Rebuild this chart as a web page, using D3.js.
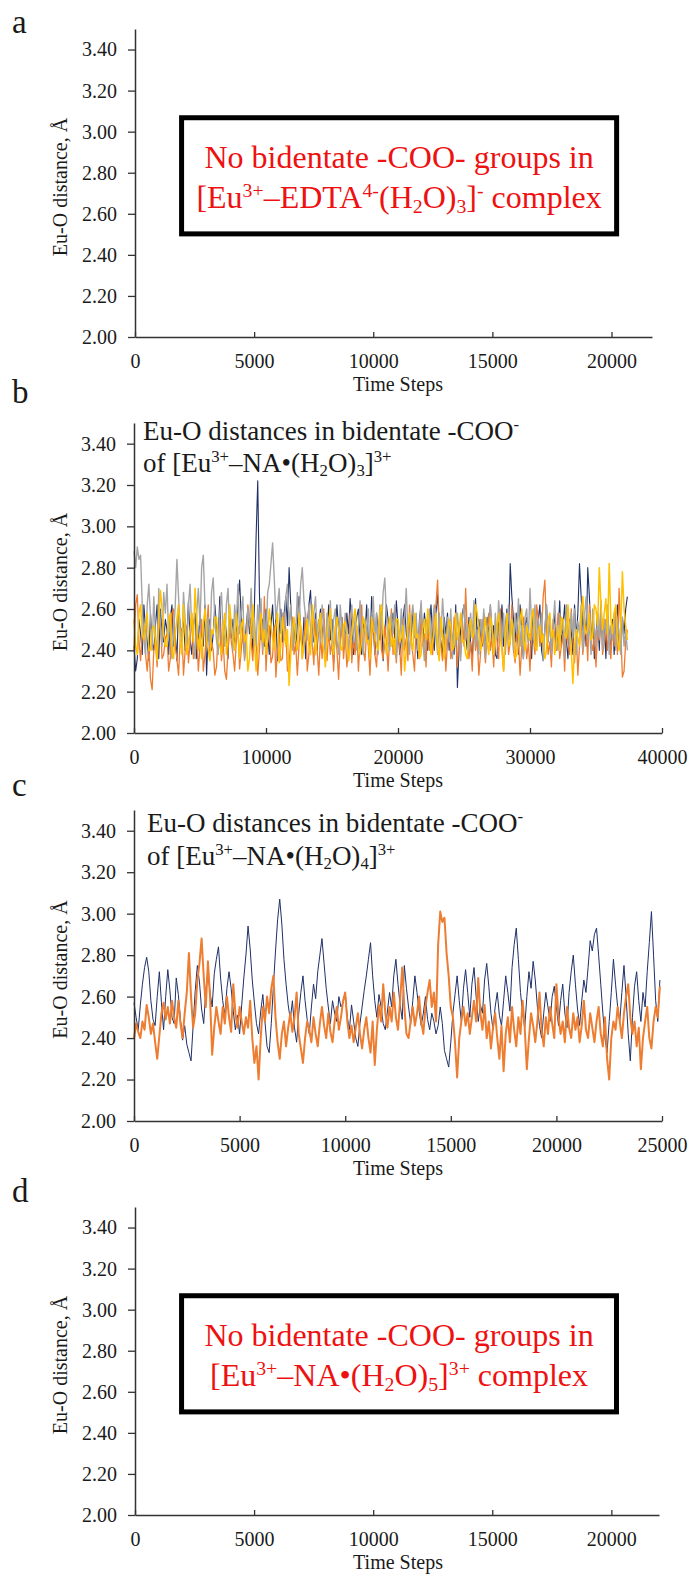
<!DOCTYPE html>
<html><head><meta charset="utf-8">
<script src="https://cdn.jsdelivr.net/npm/d3@7"></script>
<style>
body{margin:0;background:#fff}
svg{display:block}
text{font-family:"Liberation Serif","Times New Roman",serif;fill:#1a1a1a}
</style>
</head><body>
<svg id="chart" width="688" height="1574"></svg>
<script>
// ---------- data ----------
const yTickValues = [2.00, 2.20, 2.40, 2.60, 2.80, 3.00, 3.20, 3.40];
const xTicksA = [0, 5000, 10000, 15000, 20000];
const xTicksB = [0, 10000, 20000, 30000, 40000];
const xTicksC = [0, 5000, 10000, 15000, 20000, 25000];
const xTicksD = [0, 5000, 10000, 15000, 20000];
const panelLetters = ["a", "b", "c", "d"];
const yLabel = "Eu-O distance, Å";
const xLabel = "Time Steps";

// panel b: one value every 125 time steps, from step 0
const bStepInterval = 125;
const bNavy = [
 2.42,2.30,2.36,2.55,2.48,2.38,2.62,2.50,2.45,2.35,
 2.58,2.44,2.40,2.52,2.62,2.36,2.60,2.48,2.44,2.55,
 2.50,2.38,2.56,2.62,2.42,2.48,2.35,2.62,2.52,2.48,
 2.55,2.40,2.46,2.64,2.45,2.38,2.52,2.58,2.36,2.44,
 2.58,2.48,2.42,2.62,2.28,2.50,2.55,2.40,2.48,2.62,
 2.52,2.44,2.66,2.38,2.45,2.56,2.48,2.36,2.60,2.46,
 2.55,2.42,2.50,2.62,2.74,2.56,2.45,2.38,2.52,2.60,
 2.48,2.56,2.40,2.62,2.95,3.22,2.68,2.45,2.55,2.42,
 2.60,2.48,2.38,2.52,2.62,2.45,2.56,2.35,2.50,2.60,
 2.44,2.58,2.66,2.52,2.80,2.62,2.45,2.55,2.40,2.52,
 2.66,2.48,2.40,2.56,2.36,2.52,2.62,2.69,2.50,2.44,
 2.58,2.40,2.52,2.60,2.46,2.55,2.38,2.48,2.62,2.45,
 2.55,2.34,2.48,2.62,2.50,2.42,2.56,2.40,2.45,2.58,
 2.48,2.65,2.52,2.38,2.44,2.56,2.60,2.45,2.38,2.55,
 2.48,2.62,2.45,2.40,2.66,2.52,2.38,2.58,2.50,2.45,
 2.60,2.35,2.48,2.62,2.55,2.42,2.50,2.58,2.46,2.64,
 2.52,2.38,2.45,2.55,2.62,2.48,2.40,2.56,2.45,2.60,
 2.52,2.48,2.36,2.55,2.62,2.44,2.58,2.50,2.40,2.52,
 2.62,2.46,2.40,2.58,2.67,2.52,2.44,2.38,2.56,2.48,
 2.58,2.40,2.52,2.45,2.38,2.62,2.22,2.40,2.50,2.58,
 2.62,2.48,2.40,2.56,2.44,2.36,2.52,2.65,2.46,2.55,
 2.48,2.42,2.58,2.38,2.56,2.46,2.62,2.44,2.52,2.38,
 2.36,2.58,2.46,2.62,2.42,2.50,2.60,2.45,2.82,2.66,
 2.55,2.44,2.58,2.38,2.62,2.48,2.36,2.52,2.56,2.44,
 2.48,2.36,2.60,2.52,2.42,2.55,2.62,2.40,2.35,2.50,
 2.62,2.44,2.56,2.38,2.50,2.58,2.40,2.48,2.64,2.42,
 2.52,2.62,2.45,2.36,2.55,2.50,2.38,2.62,2.46,2.58,
 2.82,2.66,2.50,2.58,2.42,2.80,2.66,2.45,2.55,2.36,
 2.48,2.58,2.40,2.62,2.44,2.55,2.36,2.60,2.48,2.42,
 2.55,2.38,2.52,2.62,2.44,2.40,2.56,2.48,2.60,2.66];
const bOrange = [
 2.40,2.62,2.67,2.45,2.35,2.48,2.52,2.38,2.30,2.42,
 2.26,2.21,2.40,2.45,2.32,2.50,2.55,2.36,2.38,2.46,
 2.48,2.30,2.36,2.58,2.60,2.42,2.36,2.28,2.45,2.50,
 2.28,2.40,2.52,2.34,2.44,2.58,2.36,2.40,2.48,2.30,
 2.42,2.55,2.30,2.38,2.50,2.62,2.36,2.44,2.40,2.28,
 2.32,2.48,2.55,2.35,2.45,2.30,2.26,2.40,2.52,2.44,
 2.38,2.30,2.44,2.52,2.31,2.40,2.50,2.36,2.42,2.62,
 2.55,2.44,2.35,2.50,2.47,2.28,2.40,2.55,2.38,2.66,
 2.30,2.46,2.52,2.34,2.37,2.52,2.27,2.41,2.48,2.35,
 2.36,2.58,2.50,2.30,2.33,2.45,2.56,2.38,2.43,2.28,
 2.42,2.52,2.36,2.46,2.58,2.30,2.38,2.50,2.44,2.33,
 2.55,2.40,2.28,2.47,2.36,2.60,2.42,2.35,2.50,2.38,
 2.45,2.30,2.52,2.40,2.26,2.44,2.56,2.36,2.48,2.32,
 2.40,2.58,2.34,2.46,2.38,2.52,2.30,2.44,2.62,2.40,
 2.35,2.50,2.42,2.28,2.46,2.55,2.38,2.32,2.48,2.58,
 2.40,2.36,2.52,2.44,2.30,2.48,2.60,2.38,2.45,2.34,
 2.50,2.42,2.28,2.55,2.40,2.46,2.35,2.62,2.44,2.38,
 2.30,2.52,2.45,2.36,2.58,2.42,2.48,2.32,2.55,2.40,
 2.46,2.38,2.58,2.62,2.74,2.50,2.42,2.35,2.48,2.30,
 2.44,2.52,2.36,2.40,2.56,2.45,2.32,2.50,2.38,2.55,
 2.42,2.70,2.48,2.36,2.44,2.30,2.52,2.40,2.46,2.28,
 2.38,2.55,2.44,2.34,2.50,2.58,2.40,2.46,2.32,2.52,
 2.45,2.36,2.60,2.42,2.30,2.48,2.55,2.38,2.44,2.62,
 2.40,2.34,2.50,2.45,2.28,2.42,2.56,2.48,2.36,2.44,
 2.30,2.52,2.46,2.38,2.62,2.55,2.42,2.48,2.66,2.74,
 2.50,2.38,2.44,2.32,2.55,2.46,2.40,2.58,2.36,2.42,
 2.48,2.30,2.52,2.44,2.38,2.60,2.45,2.34,2.50,2.28,
 2.42,2.56,2.38,2.46,2.52,2.35,2.62,2.44,2.40,2.48,
 2.32,2.50,2.45,2.58,2.38,2.44,2.55,2.40,2.48,2.36,
 2.52,2.42,2.60,2.38,2.70,2.50,2.27,2.30,2.44,2.50];
const bGray = [
 2.88,2.80,2.90,2.84,2.86,2.62,2.45,2.38,2.62,2.72,
 2.56,2.40,2.66,2.48,2.35,2.70,2.52,2.42,2.68,2.58,
 2.72,2.46,2.55,2.36,2.48,2.62,2.84,2.66,2.50,2.40,
 2.68,2.55,2.40,2.62,2.72,2.50,2.46,2.36,2.58,2.70,
 2.52,2.80,2.86,2.62,2.48,2.56,2.42,2.68,2.75,2.55,
 2.45,2.38,2.58,2.68,2.50,2.42,2.62,2.70,2.48,2.55,
 2.40,2.62,2.52,2.72,2.48,2.58,2.66,2.35,2.45,2.60,
 2.52,2.70,2.46,2.55,2.42,2.62,2.50,2.65,2.40,2.58,
 2.45,2.68,2.72,2.82,2.92,2.75,2.55,2.62,2.70,2.48,
 2.58,2.45,2.66,2.72,2.52,2.62,2.40,2.55,2.48,2.68,
 2.52,2.72,2.80,2.64,2.56,2.45,2.62,2.50,2.42,2.58,
 2.66,2.48,2.55,2.44,2.62,2.52,2.38,2.58,2.46,2.64,
 2.40,2.55,2.60,2.45,2.38,2.62,2.50,2.42,2.58,2.48,
 2.35,2.52,2.62,2.44,2.56,2.40,2.50,2.64,2.46,2.38,
 2.55,2.48,2.60,2.42,2.52,2.66,2.45,2.58,2.38,2.62,
 2.50,2.68,2.75,2.56,2.44,2.40,2.58,2.48,2.62,2.36,
 2.52,2.45,2.60,2.42,2.56,2.70,2.48,2.38,2.55,2.62,
 2.46,2.58,2.40,2.52,2.64,2.45,2.35,2.55,2.48,2.60,
 2.42,2.55,2.62,2.48,2.38,2.58,2.46,2.65,2.52,2.40,
 2.56,2.44,2.60,2.36,2.50,2.42,2.58,2.48,2.35,2.55,
 2.62,2.45,2.52,2.40,2.58,2.46,2.64,2.42,2.50,2.38,
 2.55,2.48,2.60,2.36,2.52,2.44,2.62,2.50,2.40,2.58,
 2.46,2.64,2.52,2.42,2.58,2.38,2.50,2.62,2.45,2.55,
 2.40,2.58,2.48,2.65,2.42,2.52,2.36,2.56,2.60,2.44,
 2.70,2.52,2.45,2.62,2.40,2.55,2.48,2.58,2.35,2.50,
 2.62,2.44,2.56,2.38,2.52,2.64,2.46,2.40,2.58,2.48,
 2.55,2.36,2.62,2.50,2.42,2.58,2.46,2.60,2.38,2.54,
 2.48,2.62,2.40,2.56,2.66,2.45,2.52,2.38,2.60,2.50,
 2.42,2.58,2.46,2.64,2.40,2.55,2.48,2.62,2.38,2.52,
 2.45,2.58,2.40,2.55,2.48,2.38,2.56,2.42,2.50,2.40];
const bYellow = [
 2.55,2.42,2.38,2.58,2.62,2.48,2.45,2.52,2.58,2.40,
 2.40,2.50,2.52,2.44,2.35,2.56,2.69,2.60,2.48,2.42,
 2.42,2.55,2.58,2.40,2.36,2.48,2.55,2.62,2.45,2.38,
 2.62,2.50,2.38,2.44,2.50,2.58,2.44,2.70,2.55,2.40,
 2.48,2.36,2.52,2.60,2.46,2.40,2.35,2.50,2.48,2.56,
 2.56,2.44,2.42,2.38,2.50,2.58,2.38,2.46,2.62,2.52,
 2.45,2.40,2.58,2.48,2.36,2.52,2.55,2.44,2.48,2.30,
 2.36,2.52,2.62,2.45,2.30,2.40,2.52,2.58,2.44,2.50,
 2.38,2.46,2.60,2.52,2.46,2.40,2.52,2.58,2.34,2.42,
 2.56,2.48,2.42,2.50,2.23,2.38,2.50,2.56,2.45,2.40,
 2.58,2.52,2.36,2.44,2.48,2.55,2.42,2.38,2.62,2.50,
 2.38,2.45,2.52,2.58,2.45,2.40,2.32,2.48,2.55,2.60,
 2.44,2.38,2.50,2.56,2.50,2.42,2.40,2.52,2.54,2.46,
 2.35,2.42,2.48,2.55,2.60,2.50,2.42,2.38,2.45,2.56,
 2.52,2.44,2.45,2.36,2.56,2.50,2.48,2.42,2.40,2.58,
 2.62,2.48,2.44,2.38,2.50,2.56,2.42,2.46,2.38,2.55,
 2.55,2.44,2.46,2.52,2.30,2.40,2.52,2.58,2.44,2.40,
 2.58,2.46,2.48,2.36,2.38,2.50,2.55,2.45,2.60,2.52,
 2.38,2.44,2.50,2.58,2.42,2.35,2.56,2.48,2.36,2.46,
 2.48,2.55,2.52,2.40,2.42,2.58,2.45,2.50,2.58,2.44,
 2.45,2.38,2.36,2.52,2.55,2.46,2.48,2.62,2.58,2.50,
 2.40,2.44,2.50,2.56,2.44,2.38,2.56,2.52,2.38,2.45,
 2.52,2.58,2.46,2.40,2.30,2.48,2.58,2.42,2.44,2.55,
 2.50,2.36,2.38,2.44,2.55,2.60,2.45,2.40,2.52,2.48,
 2.45,2.56,2.60,2.42,2.40,2.50,2.52,2.44,2.48,2.36,
 2.40,2.55,2.58,2.46,2.50,2.38,2.44,2.52,2.40,2.56,
 2.55,2.48,2.46,2.62,2.50,2.40,2.24,2.42,2.50,2.46,
 2.42,2.58,2.66,2.52,2.48,2.50,2.58,2.45,2.47,2.62,
 2.60,2.52,2.80,2.62,2.50,2.58,2.65,2.48,2.82,2.55,
 2.48,2.58,2.62,2.45,2.40,2.52,2.78,2.60,2.52,2.45];

// panel c: one value every 100 time steps, from step 0
const cStepInterval = 100;
const cNavy = [2.57,2.50,2.44,2.56,2.66,2.74,2.79,2.72,2.58,2.49,
 2.46,2.60,2.72,2.57,2.44,2.60,2.73,2.63,2.50,2.47,
 2.69,2.61,2.49,2.39,2.46,2.37,2.33,2.29,2.46,2.63,
 2.75,2.67,2.54,2.47,2.63,2.72,2.62,2.55,2.71,2.78,
 2.84,2.69,2.58,2.51,2.64,2.72,2.64,2.53,2.44,2.51,
 2.42,2.56,2.69,2.80,2.94,2.83,2.68,2.57,2.47,2.42,
 2.53,2.61,2.48,2.36,2.33,2.47,2.65,2.82,2.97,3.07,
 2.95,2.78,2.66,2.56,2.49,2.58,2.45,2.38,2.52,2.62,
 2.70,2.58,2.49,2.42,2.55,2.66,2.59,2.72,2.80,2.88,
 2.76,2.64,2.55,2.47,2.58,2.52,2.48,2.60,2.55,2.57,
 2.62,2.50,2.44,2.56,2.48,2.40,2.36,2.47,2.55,2.63,
 2.70,2.78,2.86,2.70,2.58,2.50,2.61,2.55,2.47,2.44,
 2.53,2.62,2.55,2.70,2.78,2.66,2.56,2.49,2.75,2.64,
 2.55,2.47,2.58,2.70,2.62,2.53,2.46,2.52,2.60,2.49,
 2.44,2.52,2.48,2.42,2.46,2.55,2.47,2.34,2.30,2.26,
 2.38,2.52,2.61,2.70,2.58,2.48,2.64,2.73,2.62,2.50,
 2.66,2.74,2.60,2.48,2.56,2.52,2.68,2.76,2.65,2.52,
 2.44,2.55,2.62,2.51,2.46,2.58,2.70,2.62,2.53,2.74,
 2.85,2.93,2.78,2.62,2.52,2.45,2.60,2.72,2.64,2.77,
 2.68,2.55,2.46,2.40,2.52,2.62,2.55,2.48,2.60,2.65,
 2.55,2.46,2.58,2.66,2.52,2.45,2.62,2.72,2.80,2.66,
 2.54,2.46,2.58,2.68,2.62,2.74,2.87,2.82,2.90,2.93,
 2.80,2.66,2.52,2.40,2.33,2.48,2.62,2.78,2.66,2.55,
 2.48,2.62,2.75,2.60,2.42,2.29,2.50,2.65,2.72,2.58,
 2.48,2.62,2.55,2.72,2.86,3.01,2.80,2.58,2.48,2.68];
const cOrange = [2.40,2.47,2.43,2.40,2.48,2.44,2.56,2.50,2.42,2.47,
 2.38,2.30,2.41,2.52,2.57,2.49,2.55,2.47,2.58,2.50,
 2.45,2.58,2.47,2.40,2.52,2.62,2.81,2.60,2.45,2.52,
 2.68,2.76,2.88,2.70,2.55,2.77,2.60,2.32,2.45,2.55,
 2.48,2.42,2.55,2.47,2.60,2.50,2.43,2.66,2.52,2.45,
 2.55,2.48,2.42,2.50,2.45,2.58,2.40,2.28,2.36,2.20,
 2.40,2.55,2.48,2.60,2.52,2.64,2.70,2.50,2.38,2.30,
 2.42,2.48,2.36,2.45,2.52,2.43,2.50,2.62,2.42,2.35,
 2.28,2.40,2.48,2.44,2.38,2.50,2.42,2.36,2.47,2.55,
 2.46,2.40,2.52,2.43,2.38,2.48,2.55,2.44,2.50,2.58,
 2.62,2.48,2.40,2.46,2.38,2.45,2.52,2.42,2.35,2.44,
 2.50,2.40,2.33,2.48,2.27,2.44,2.56,2.48,2.66,2.52,
 2.45,2.55,2.48,2.62,2.50,2.44,2.58,2.74,2.55,2.42,
 2.40,2.48,2.55,2.46,2.52,2.60,2.48,2.42,2.55,2.62,
 2.68,2.55,2.62,2.48,2.85,3.01,2.96,2.98,2.81,2.70,
 2.55,2.50,2.38,2.21,2.40,2.48,2.55,2.46,2.52,2.42,
 2.50,2.58,2.48,2.69,2.52,2.44,2.56,2.40,2.48,2.35,
 2.45,2.52,2.40,2.30,2.46,2.24,2.42,2.50,2.38,2.55,
 2.44,2.36,2.50,2.42,2.58,2.45,2.25,2.40,2.52,2.46,
 2.38,2.48,2.62,2.44,2.36,2.50,2.42,2.55,2.47,2.40,
 2.66,2.50,2.42,2.48,2.38,2.55,2.45,2.40,2.52,2.44,
 2.50,2.38,2.46,2.58,2.44,2.40,2.52,2.45,2.38,2.48,
 2.55,2.42,2.36,2.50,2.30,2.20,2.40,2.48,2.44,2.55,
 2.48,2.40,2.52,2.60,2.66,2.50,2.42,2.48,2.36,2.45,
 2.25,2.40,2.48,2.55,2.40,2.35,2.48,2.55,2.50,2.65];

// ---------- layout ----------
const FONT = '"Liberation Serif","Times New Roman",serif';
const svg = d3.select("#chart");

const panels = [
  {letter: panelLetters[0], letterY: 33, x0: 135, x1: 652, xMax: 21700, yTop: 29, yBot: 337, ticks: xTicksA,
   series: [], box: {x0: 1850, x1: 20320, yTop: 3.08, yBot: 2.49,
     lines: [
       [["No bidentate -COO- groups in", "n"]],
       [["[Eu","n"],["3+","sup"],["–EDTA","n"],["4-","sup"],["(H","n"],["2","sub"],["O)","n"],["3","sub"],["]","n"],["-","sup"],[" complex","n"]]
     ]}},
  {letter: panelLetters[1], letterY: 403, x0: 134, x1: 662, xMax: 40000, yTop: 423, yBot: 733, ticks: xTicksB,
   series: [
     {values: bNavy, color: "#1f3068", width: 1.1, step: bStepInterval},
     {values: bOrange, color: "#ed7d31", width: 1.3, step: bStepInterval},
     {values: bGray, color: "#a5a5a5", width: 1.4, step: bStepInterval},
     {values: bYellow, color: "#ffc000", width: 1.5, step: bStepInterval}
   ],
   title: {x: 143, y: 440, dy: 32, lines: [
     [["Eu-O distances in bidentate -COO","n"],["-","sup"]],
     [["of [Eu","n"],["3+","sup"],["–NA•(H","n"],["2","sub"],["O)","n"],["3","sub"],["]","n"],["3+","sup"]]
   ]}},
  {letter: panelLetters[2], letterY: 796, x0: 134, x1: 662, xMax: 25000, yTop: 810, yBot: 1121, ticks: xTicksC,
   series: [
     {values: cNavy, color: "#1f3068", width: 1.0, step: cStepInterval},
     {values: cOrange, color: "#ed7d31", width: 2.0, step: cStepInterval}
   ],
   title: {x: 147, y: 832, dy: 33, lines: [
     [["Eu-O distances in bidentate -COO","n"],["-","sup"]],
     [["of [Eu","n"],["3+","sup"],["–NA•(H","n"],["2","sub"],["O)","n"],["4","sub"],["]","n"],["3+","sup"]]
   ]}},
  {letter: panelLetters[3], letterY: 1202, x0: 135, x1: 659, xMax: 22000, yTop: 1207, yBot: 1515, ticks: xTicksD,
   series: [], box: {x0: 1850, x1: 20320, yTop: 3.08, yBot: 2.49,
     lines: [
       [["No bidentate -COO- groups in", "n"]],
       [["[Eu","n"],["3+","sup"],["–NA•(H","n"],["2","sub"],["O)","n"],["5","sub"],["]","n"],["3+","sup"],[" complex","n"]]
     ]}}
];

function richText(g, x, y, parts, fs, anchor, color) {
  const t = g.append("text").attr("x", x).attr("y", y)
    .attr("font-size", fs).attr("text-anchor", anchor)
    .style("fill", color).style("font-family", FONT);
  let cur = 0;
  parts.forEach(([s, kind]) => {
    let target = 0, size = fs;
    if (kind === "sup") { target = -0.36 * fs; size = 0.62 * fs; }
    if (kind === "sub") { target = 0.16 * fs; size = 0.62 * fs; }
    t.append("tspan").attr("dy", target - cur).attr("font-size", size).text(s);
    cur = target;
  });
  return t;
}

panels.forEach(p => {
  const x = d3.scaleLinear().domain([0, p.xMax]).range([p.x0, p.x1]);
  const y = d3.scaleLinear().domain([2.0, 3.5]).range([p.yBot, p.yTop]);
  const g = svg.append("g");

  g.append("text").attr("x", 12).attr("y", p.letterY).attr("font-size", 33)
    .style("font-family", FONT).text(p.letter);

  p.series.forEach(s => {
    const ln = d3.line().x((d, i) => x(i * s.step)).y(d => y(d));
    g.append("path").datum(s.values).attr("d", ln)
      .attr("fill", "none").attr("stroke", s.color)
      .attr("stroke-width", s.width).attr("stroke-linejoin", "round");
  });

  const ya = g.append("g").attr("transform", `translate(${p.x0},0)`)
    .call(d3.axisLeft(y).tickValues(yTickValues).tickFormat(d3.format(".2f"))
      .tickSizeInner(7).tickSizeOuter(0).tickPadding(11));
  ya.select(".domain").attr("stroke", "#333").attr("stroke-width", 1.5);
  ya.selectAll(".tick line").attr("stroke", "#333").attr("stroke-width", 1.3);
  ya.selectAll(".tick text").attr("font-size", 20)
    .style("font-family", FONT).style("fill", "#1a1a1a");

  const xa = g.append("g").attr("transform", `translate(0,${p.yBot})`)
    .call(d3.axisBottom(x).tickValues(p.ticks).tickFormat(d3.format("d"))
      .tickSizeInner(-5).tickSizeOuter(0));
  xa.select(".domain").attr("stroke", "#333").attr("stroke-width", 1.5);
  xa.selectAll(".tick line").attr("stroke", "#333").attr("stroke-width", 1.3);
  xa.selectAll(".tick text").attr("font-size", 20).attr("y", 31).attr("dy", null)
    .style("font-family", FONT).style("fill", "#1a1a1a");

  g.append("text").attr("x", 398).attr("y", p.yBot + 54).attr("text-anchor", "middle")
    .attr("font-size", 20).style("font-family", FONT).text(xLabel);
  const midY = (p.yTop + p.yBot) / 2 + 4;
  g.append("text").attr("transform", `translate(67,${midY}) rotate(-90)`)
    .attr("text-anchor", "middle").attr("font-size", 20).style("font-family", FONT).text(yLabel);

  if (p.title) {
    p.title.lines.forEach((ln, i) =>
      richText(g, p.title.x, p.title.y + i * p.title.dy, ln, 27, "start", "#1a1a1a"));
  }

  if (p.box) {
    const b = p.box, sw = 5;
    const bx0 = x(b.x0), bx1 = x(b.x1), by0 = y(b.yTop), by1 = y(b.yBot);
    g.append("rect").attr("x", bx0 + sw / 2).attr("y", by0 + sw / 2)
      .attr("width", bx1 - bx0 - sw).attr("height", by1 - by0 - sw)
      .attr("fill", "#fff").attr("stroke", "#000").attr("stroke-width", sw);
    const cx = (bx0 + bx1) / 2;
    b.lines.forEach((ln, i) =>
      richText(g, cx, by0 + 53 + i * 40, ln, 32, "middle", "#ee1111"));
  }
});
</script>
</body></html>
